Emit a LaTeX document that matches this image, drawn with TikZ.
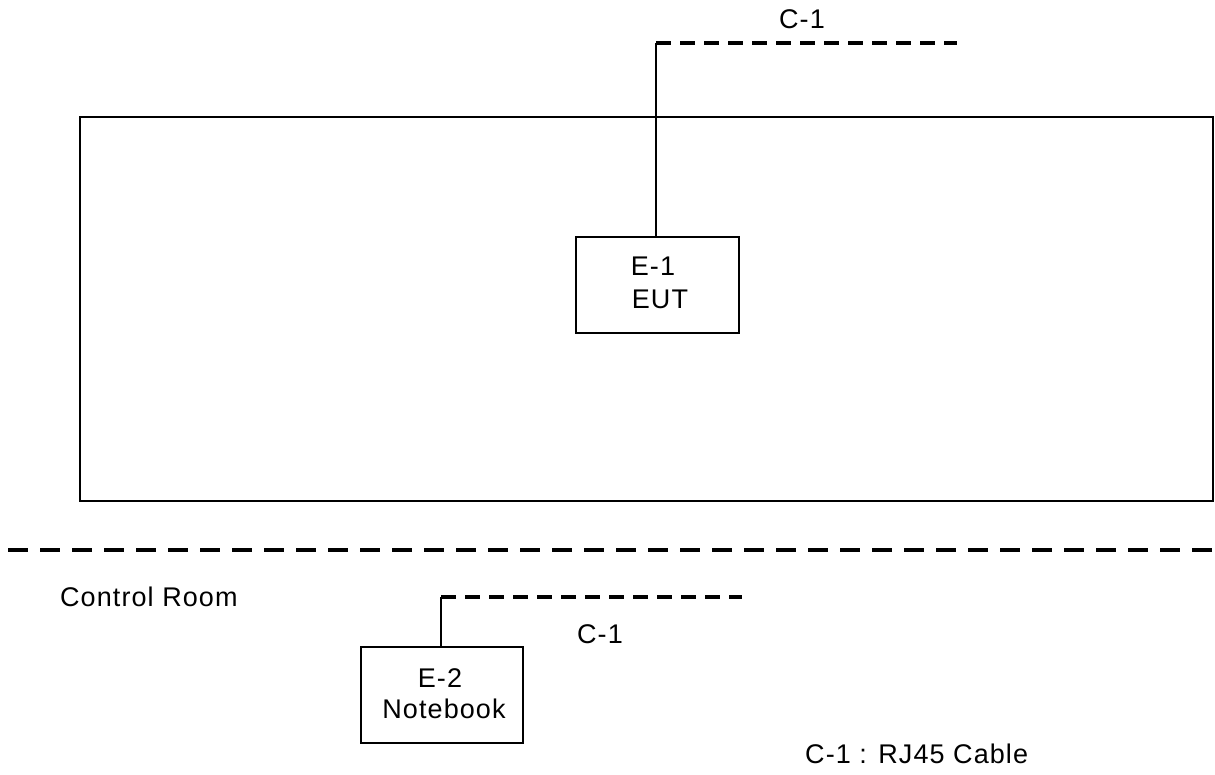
\documentclass[tikz,border=0pt]{standalone}
\usepackage{fontspec}
\setmainfont{Liberation Sans}[LetterSpace=4]
\begin{document}
\begin{tikzpicture}[x=1pt,y=-1pt,
  solidline/.style={line width=2.2pt,black},
  cable/.style={line width=3.4pt,black,dash pattern=on 15pt off 9pt},
  sep/.style={line width=3.4pt,black,dash pattern=on 20pt off 12pt},
  box/.style={draw,line width=2.2pt,minimum width=162pt,minimum height=96pt,anchor=north west,inner sep=0pt},
  lbl/.style={font=\fontsize{27}{32}\selectfont,inner sep=0pt,anchor=base},
]
\useasboundingbox (0,0) rectangle (1215,775);
% shielded room
\node[box,minimum width=1133pt,minimum height=384pt] (room) at (79,116) {};
% EUT
\node[box,minimum width=163pt] (eut) at (575,236) {};
\node[lbl] (eutid) at (653,275.5) {E-1};
\node[lbl] (eutname) at (660,308.5) {EUT};
\coordinate (c1top) at (656,43);
\coordinate (c1end) at (957,43);
\draw[solidline] (eut.north -| c1top) -- (c1top);
\draw[cable] (c1top) -- (c1end);
\node[lbl] (c1a) at (802,28.5) {C-1};
% separator
\coordinate (sepL) at (8,550);
\coordinate (sepR) at (1215,550);
\draw[sep] (sepL) -- (sepR);
\node[lbl,anchor=base west] (ctrl) at (60,606) {Control Room};
% notebook
\node[box] (nb) at (360,646) {};
\node[lbl] (nbid) at (440,687) {E-2};
\node[lbl] (nbname) at (444,718) {Notebook};
\coordinate (c2top) at (441,597);
\coordinate (c2end) at (742,597);
\draw[solidline] (nb.north -| c2top) -- (c2top);
\draw[cable] (c2top) -- (c2end);
\node[lbl] (c1b) at (600,643) {C-1};
\node[lbl,anchor=base west] (legend) at (805,763) {C-1 : RJ45 Cable};
\end{tikzpicture}
\end{document}
